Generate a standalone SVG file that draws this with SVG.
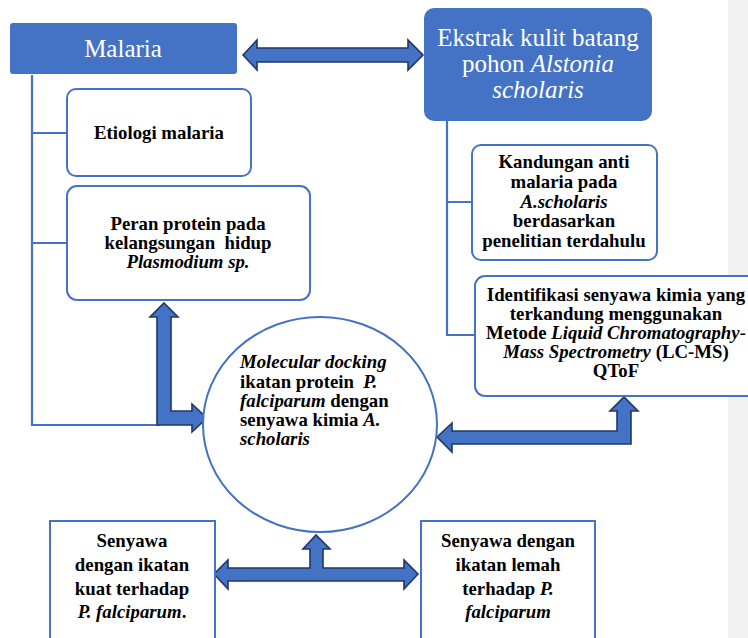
<svg xmlns="http://www.w3.org/2000/svg" width="748" height="638" viewBox="0 0 748 638">
<style>
.hdr{fill:#4472c4;}
.box{fill:#ffffff;stroke:#4472c4;stroke-width:2;}
.ln{fill:none;stroke:#4472c4;stroke-width:2.2;}
.arr{fill:#4472c4;stroke:#1f3864;stroke-width:1.6;stroke-linejoin:miter;}
text{font-family:"Liberation Serif","Times New Roman",Times,"DejaVu Serif",serif;}
.t{font-weight:bold;font-size:18.8px;fill:#000;}
.w{font-size:25px;fill:#ffffff;}
.i{font-style:italic;}
</style>
<rect x="0" y="0" width="748" height="638" fill="#ffffff"/>
<rect x="728" y="0" width="20" height="638" fill="#f2f2f2"/>

<g id="connectors">
<path class="ln" d="M32 75 V425 H160 M32 133 H67 M32 243 H67"/>
<path class="ln" d="M447 121 V335 H476 M447 202 H472"/>
<path class="arr" d="M243 55 L257 40 L257 48 L408 48 L408 40 L423 55 L408 70 L408 62 L257 62 L257 70 Z"/>
<path class="arr" d="M164 303 L178 317 L171 317 L171 411 L192 411 L192 404 L207 418 L192 432 L192 425 L157 425 L157 317 L150 317 Z"/>
<path class="arr" d="M437 437 L452 423 L452 431 L617 431 L617 411 L610 411 L624 397 L638 411 L631 411 L631 444 L452 444 L452 452 Z"/>
<path class="arr" d="M214 574 L228 560 L228 568 L310 568 L310 549 L303 549 L316 535 L330 549 L323 549 L323 568 L404 568 L404 560 L418 574 L404 589 L404 581 L228 581 L228 589 Z"/>
</g>

<g id="malaria">
<rect class="hdr" x="10" y="23" width="227" height="51" rx="3"/>
<text class="w" x="123" y="57" text-anchor="middle">Malaria</text>
</g>

<g id="ekstrak">
<rect class="hdr" x="424" y="8" width="228" height="113" rx="10"/>
<text class="w" x="538" y="46" text-anchor="middle">Ekstrak kulit batang</text>
<text class="w" x="538" y="72" text-anchor="middle">pohon <tspan class="i">Alstonia</tspan></text>
<text class="w" x="538" y="98" text-anchor="middle"><tspan class="i">scholaris</tspan></text>
</g>

<g id="etiologi">
<rect class="box" x="67" y="89" width="184" height="87" rx="9"/>
<text class="t" x="159" y="139" text-anchor="middle">Etiologi malaria</text>
</g>

<g id="peran">
<rect class="box" x="67" y="186" width="243" height="114" rx="10"/>
<text class="t" x="188" y="230" text-anchor="middle">Peran protein pada</text>
<text class="t" x="188" y="249" text-anchor="middle">kelangsungan&#160; hidup</text>
<text class="t" x="188" y="268" text-anchor="middle"><tspan class="i">Plasmodium sp.</tspan></text>
</g>

<g id="kandungan">
<rect class="box" x="472" y="145" width="185" height="115" rx="9"/>
<text class="t" x="564" y="168" text-anchor="middle">Kandungan anti</text>
<text class="t" x="564" y="188" text-anchor="middle">malaria pada</text>
<text class="t" x="564" y="208" text-anchor="middle"><tspan class="i">A.scholaris</tspan></text>
<text class="t" x="564" y="227" text-anchor="middle">berdasarkan</text>
<text class="t" x="564" y="247" text-anchor="middle">penelitian terdahulu</text>
</g>

<g id="identifikasi">
<rect class="box" x="475" y="276" width="290" height="120" rx="10"/>
<text class="t" x="616" y="301" text-anchor="middle">Identifikasi senyawa kimia yang</text>
<text class="t" x="616" y="320" text-anchor="middle">terkandung menggunakan</text>
<text class="t" x="616" y="339" text-anchor="middle">Metode <tspan class="i">Liquid Chromatography-</tspan></text>
<text class="t" x="616" y="358" text-anchor="middle"><tspan class="i">Mass Spectrometry</tspan> (LC-MS)</text>
<text class="t" x="616" y="377" text-anchor="middle">QToF</text>
</g>

<g id="docking">
<ellipse class="box" cx="320" cy="424.5" rx="117" ry="107.5"/>
<text class="t" x="240" y="368"><tspan class="i">Molecular docking</tspan></text>
<text class="t" x="240" y="388">ikatan protein&#160; <tspan class="i">P.</tspan></text>
<text class="t" x="240" y="407"><tspan class="i">falciparum</tspan> dengan</text>
<text class="t" x="240" y="426">senyawa kimia <tspan class="i">A.</tspan></text>
<text class="t" x="240" y="445"><tspan class="i">scholaris</tspan></text>
</g>

<g id="kuat">
<rect class="box" x="50" y="521" width="165" height="130"/>
<text class="t" x="132" y="547" text-anchor="middle">Senyawa</text>
<text class="t" x="132" y="571" text-anchor="middle">dengan ikatan</text>
<text class="t" x="132" y="595" text-anchor="middle">kuat terhadap</text>
<text class="t" x="132" y="618" text-anchor="middle"><tspan class="i">P. falciparum</tspan>.</text>
</g>

<g id="lemah">
<rect class="box" x="421" y="521" width="174" height="130"/>
<text class="t" x="508" y="547" text-anchor="middle">Senyawa dengan</text>
<text class="t" x="508" y="571" text-anchor="middle">ikatan lemah</text>
<text class="t" x="508" y="595" text-anchor="middle">terhadap <tspan class="i">P.</tspan></text>
<text class="t" x="508" y="618" text-anchor="middle"><tspan class="i">falciparum</tspan></text>
</g>
</svg>
